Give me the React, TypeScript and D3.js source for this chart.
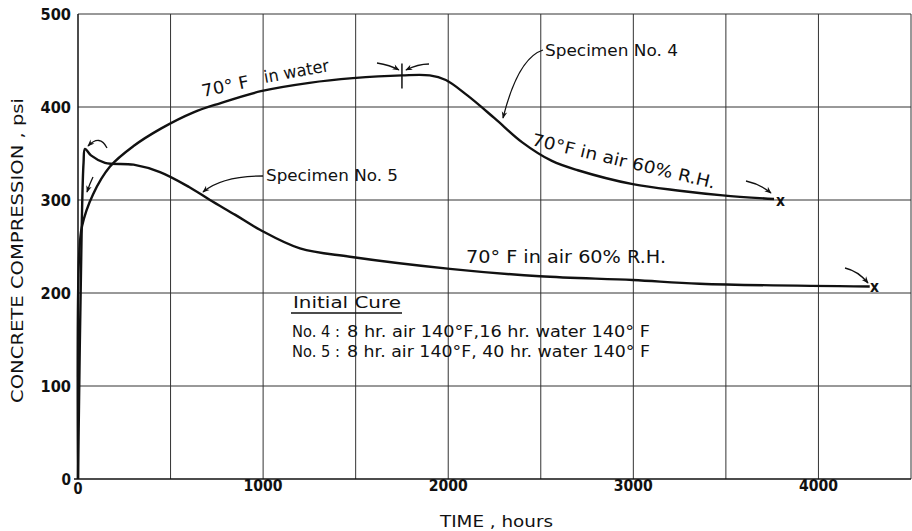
import React, { useEffect, useRef } from 'react';
import * as d3 from 'd3';

// hours vs psi
const spec4: [number, number][] = [
  [0, 0], [6, 240], [22, 272], [81, 306], [173, 336], [300, 358], [450, 377],
  [621, 394], [767, 404], [988, 417], [1250, 426], [1485, 431], [1750, 434],
  [1900, 434], [1987, 429], [2100, 413], [2250, 388], [2400, 362], [2560, 342],
  [2700, 332], [2997, 317], [3250, 310], [3483, 305], [3760, 301],
];
const spec5: [number, number][] = [
  [0, 0], [20, 270], [30, 340], [38, 355], [70, 348], [146, 340], [300, 338],
  [443, 330], [600, 314], [713, 300], [850, 284], [983, 268], [1199, 248],
  [1469, 239], [2009, 226], [2495, 218], [2997, 214], [3358, 210], [4277, 207],
];
const xTicks = [0, 1000, 2000, 3000, 4000];
const yTicks = [0, 100, 200, 300, 400, 500];
const xGrid = [500, 1000, 1500, 2000, 2500, 3000, 3500, 4000, 4500];
const yGrid = [100, 200, 300, 400, 500];
const cureTitle = 'Initial Cure';
const cureRows = [
  ['No. 4 :', '8 hr. air 140°F,16 hr. water 140° F'],
  ['No. 5 :', '8 hr. air 140°F, 40 hr. water 140° F'],
];

const W = 912, H = 531;
const FONT = '"DejaVu Sans", Verdana, sans-serif';

export default function App() {
  const ref = useRef<SVGSVGElement>(null);

  useEffect(() => {
    const svg = d3.select(ref.current);
    svg.selectAll('*').remove();

    const x = d3.scaleLinear().domain([0, 4500]).range([78, 911]);
    const y = d3.scaleLinear().domain([0, 500]).range([479, 14]);

    const defs = svg.append('defs');
    defs.append('marker')
      .attr('id', 'ah')
      .attr('viewBox', '0 0 10 10')
      .attr('refX', 9).attr('refY', 5)
      .attr('markerWidth', 9).attr('markerHeight', 7)
      .attr('markerUnits', 'userSpaceOnUse')
      .attr('orient', 'auto')
      .append('path').attr('d', 'M0,1 L10,5 L0,9 L3,5 Z').attr('fill', '#111');

    // grid
    svg.append('g').selectAll('line').data(xGrid).enter().append('line')
      .attr('x1', d => x(d)).attr('x2', d => x(d))
      .attr('y1', y(0)).attr('y2', y(500))
      .attr('stroke', '#333').attr('stroke-width', 1);
    svg.append('g').selectAll('line').data(yGrid).enter().append('line')
      .attr('x1', x(0)).attr('x2', x(4500))
      .attr('y1', d => y(d)).attr('y2', d => y(d))
      .attr('stroke', '#333').attr('stroke-width', 1);

    // axes lines
    svg.append('line').attr('x1', x(0)).attr('x2', x(0)).attr('y1', y(0)).attr('y2', y(500))
      .attr('stroke', '#111').attr('stroke-width', 1.5);
    svg.append('line').attr('x1', x(0) - 4).attr('x2', x(4500)).attr('y1', y(0)).attr('y2', y(0))
      .attr('stroke', '#111').attr('stroke-width', 1.5);

    // tick labels
    svg.append('g').selectAll('text').data(yTicks).enter().append('text')
      .attr('x', x(0) - 7).attr('y', d => y(d) + 5.5)
      .attr('text-anchor', 'end')
      .attr('font-family', FONT).attr('font-size', 15).attr('font-weight', 'bold')
      .attr('textLength', d => String(d).length * 10.5 - 1)
      .attr('lengthAdjust', 'spacingAndGlyphs')
      .attr('fill', '#111')
      .text(d => d);
    svg.append('g').selectAll('text').data(xTicks).enter().append('text')
      .attr('x', d => x(d)).attr('y', d => (d === 0 ? 494 : 491))
      .attr('text-anchor', 'middle')
      .attr('font-family', FONT).attr('font-size', 15).attr('font-weight', 'bold')
      .attr('textLength', d => String(d).length * 10 - 1)
      .attr('lengthAdjust', 'spacingAndGlyphs')
      .attr('fill', '#111')
      .text(d => d);

    const txt = (tx: number, ty: number, s: string, len: number, rot = 0, size = 16) =>
      svg.append('text')
        .attr('transform', `translate(${tx},${ty}) rotate(${rot})`)
        .attr('font-family', FONT).attr('font-size', size).attr('fill', '#111')
        .attr('textLength', len).attr('lengthAdjust', 'spacingAndGlyphs')
        .text(s);

    // axis titles
    txt(23, 403, 'CONCRETE  COMPRESSION , psi', 305, -90, 16);
    txt(440, 527, 'TIME , hours', 113, 0, 16);

    // curves
    const line = d3.line<[number, number]>()
      .x(d => x(d[0])).y(d => y(d[1]))
      .curve(d3.curveCatmullRom.alpha(0.5));
    [spec4, spec5].forEach(s => {
      svg.append('path').attr('d', line(s))
        .attr('fill', 'none').attr('stroke', '#111').attr('stroke-width', 2.4);
    });

    const arrow = (d: string) =>
      svg.append('path').attr('d', d).attr('fill', 'none')
        .attr('stroke', '#111').attr('stroke-width', 1.3).attr('marker-end', 'url(#ah)');

    // annotations, specimen 4
    txt(203, 97, '70° F', 48, -12, 17);
    txt(265, 83, 'in water', 66, -10.5, 17);
    svg.append('line').attr('x1', x(1750)).attr('x2', x(1750))
      .attr('y1', y(434) - 12).attr('y2', y(434) + 13)
      .attr('stroke', '#111').attr('stroke-width', 1.5);
    arrow(`M377,63 Q390,65 ${x(1750) - 3},70`);
    arrow(`M429,64 Q418,64 ${x(1750) + 4},70`);
    txt(545, 56, 'Specimen No. 4', 133, 0, 16.5);
    arrow('M543,50 Q518,58 503,118');
    txt(531, 145, '70°F  in air  60% R.H.', 188, 13.4, 17);
    arrow('M746,181 Q760,184 771,193');
    txt(776, 206, 'x', 9, 0, 15).attr('font-weight', 'bold');

    // annotations, specimen 5
    txt(266, 181, 'Specimen No. 5', 132, 0, 16.5);
    arrow('M263,176 Q222,176 203,192');
    txt(466, 263, '70° F  in  air  60% R.H.', 200, 0, 17);
    arrow('M845,268 Q858,271 868,283');
    txt(870, 292, 'x', 9, 0, 15).attr('font-weight', 'bold');
    arrow('M107,148 Q100,134 88,146');
    arrow('M93,177 Q90,183 87,192');

    // initial cure box
    txt(293, 308, cureTitle, 108, 0, 16);
    svg.append('line').attr('x1', 291).attr('x2', 402).attr('y1', 313).attr('y2', 313)
      .attr('stroke', '#111').attr('stroke-width', 1.4);
    cureRows.forEach((r, i) => {
      txt(292, 337 + i * 20, r[0], 48, 0, 15.5);
      txt(347, 337 + i * 20, r[1], 303, 0, 15.5);
    });
  }, []);

  return (
    <svg ref={ref} width={W} height={H}
      style={{ position: 'absolute', left: 0, top: 0, background: '#fff' }} />
  );
}
